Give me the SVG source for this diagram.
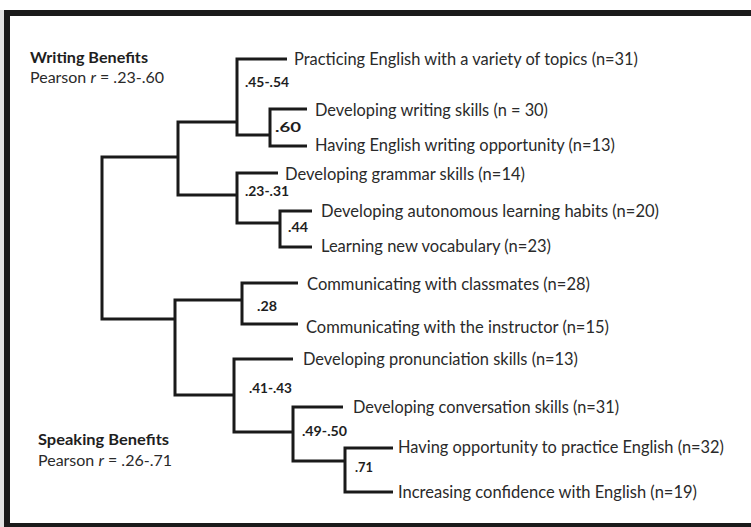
<svg xmlns="http://www.w3.org/2000/svg" width="751" height="527" viewBox="0 0 751 527">
<style>
.leaf{font-family:Lato,"Open Sans","Liberation Sans",sans-serif;font-size:16.5px;fill:#2a2a2a}
.val{font-family:Lato,"Open Sans","Liberation Sans",sans-serif;font-size:13.5px;font-weight:bold;fill:#1e1e1e}
.head{font-family:Lato,"Open Sans","Liberation Sans",sans-serif;font-size:15.5px;font-weight:bold;fill:#1e1e1e}
.sub{font-family:Lato,"Open Sans","Liberation Sans",sans-serif;font-size:15.5px;fill:#2a2a2a}
.br{fill:none;stroke:#1a1a1a;stroke-width:3;stroke-linejoin:miter;stroke-linecap:butt}
</style>
<rect x="0" y="0" width="751" height="527" fill="#ffffff"/>
<rect x="0" y="10" width="4" height="517" fill="#e2e2e2"/>
<rect x="7" y="13" width="750" height="513" fill="none" stroke="#1a1a1a" stroke-width="6"/>

<g id="connectors">
<path class="br" d="M178,157 H102 V319 H175"/>
<path class="br" d="M237,122 H178 V195 H237"/>
<path class="br" d="M287,59 H237 V135 H270"/>
<path class="br" d="M307,109 H270 V146 H307"/>
<path class="br" d="M278,173 H237 V223 H280"/>
<path class="br" d="M312,211 H280 V247 H312"/>
<path class="br" d="M242,300 H175 V395 H234"/>
<path class="br" d="M298,283 H242 V324 H298"/>
<path class="br" d="M293,359 H234 V432 H293"/>
<path class="br" d="M343,407 H293 V461 H345"/>
<path class="br" d="M393,448 H345 V492 H393"/>
</g>

<g id="writing-benefits">
<text class="head" x="30" y="63" textLength="118" lengthAdjust="spacingAndGlyphs">Writing Benefits</text>
<text class="sub" x="30" y="83" textLength="134" lengthAdjust="spacingAndGlyphs">Pearson <tspan font-style="italic">r</tspan> = .23-.60</text>
</g>
<g id="speaking-benefits">
<text class="head" x="38" y="445" textLength="131" lengthAdjust="spacingAndGlyphs">Speaking Benefits</text>
<text class="sub" x="38" y="466" textLength="134" lengthAdjust="spacingAndGlyphs">Pearson <tspan font-style="italic">r</tspan> = .26-.71</text>
</g>

<g id="val-45-54"><text class="val" x="245" y="87" textLength="44" lengthAdjust="spacingAndGlyphs">.45-.54</text></g>
<g id="val-60"><text class="val" x="275" y="132" textLength="26" lengthAdjust="spacingAndGlyphs">.60</text></g>
<g id="val-23-31"><text class="val" x="245" y="196" textLength="44" lengthAdjust="spacingAndGlyphs">.23-.31</text></g>
<g id="val-44"><text class="val" x="288" y="232" textLength="20" lengthAdjust="spacingAndGlyphs">.44</text></g>
<g id="val-28"><text class="val" x="257" y="311" textLength="20" lengthAdjust="spacingAndGlyphs">.28</text></g>
<g id="val-41-43"><text class="val" x="249" y="393" textLength="43" lengthAdjust="spacingAndGlyphs">.41-.43</text></g>
<g id="val-49-50"><text class="val" x="302" y="436" textLength="45" lengthAdjust="spacingAndGlyphs">.49-.50</text></g>
<g id="val-71"><text class="val" x="355" y="472" textLength="18" lengthAdjust="spacingAndGlyphs">.71</text></g>

<g id="leaf-practicing"><text class="leaf" x="294" y="65" textLength="344" lengthAdjust="spacingAndGlyphs">Practicing English with a variety of topics (n=31)</text></g>
<g id="leaf-writing-skills"><text class="leaf" x="315" y="116" textLength="233" lengthAdjust="spacingAndGlyphs">Developing writing skills (n = 30)</text></g>
<g id="leaf-writing-opportunity"><text class="leaf" x="315" y="151" textLength="300" lengthAdjust="spacingAndGlyphs">Having English writing opportunity (n=13)</text></g>
<g id="leaf-grammar"><text class="leaf" x="285" y="180" textLength="240" lengthAdjust="spacingAndGlyphs">Developing grammar skills (n=14)</text></g>
<g id="leaf-autonomous"><text class="leaf" x="321" y="217" textLength="338" lengthAdjust="spacingAndGlyphs">Developing autonomous learning habits (n=20)</text></g>
<g id="leaf-vocabulary"><text class="leaf" x="321" y="252" textLength="230" lengthAdjust="spacingAndGlyphs">Learning new vocabulary (n=23)</text></g>
<g id="leaf-classmates"><text class="leaf" x="307" y="290" textLength="283" lengthAdjust="spacingAndGlyphs">Communicating with classmates (n=28)</text></g>
<g id="leaf-instructor"><text class="leaf" x="306" y="333" textLength="303" lengthAdjust="spacingAndGlyphs">Communicating with the instructor (n=15)</text></g>
<g id="leaf-pronunciation"><text class="leaf" x="303" y="365" textLength="275" lengthAdjust="spacingAndGlyphs">Developing pronunciation skills (n=13)</text></g>
<g id="leaf-conversation"><text class="leaf" x="353" y="413" textLength="266" lengthAdjust="spacingAndGlyphs">Developing conversation skills (n=31)</text></g>
<g id="leaf-opportunity"><text class="leaf" x="398" y="453" textLength="326" lengthAdjust="spacingAndGlyphs">Having opportunity to practice English (n=32)</text></g>
<g id="leaf-confidence"><text class="leaf" x="398" y="498" textLength="299" lengthAdjust="spacingAndGlyphs">Increasing confidence with English (n=19)</text></g>
</svg>
